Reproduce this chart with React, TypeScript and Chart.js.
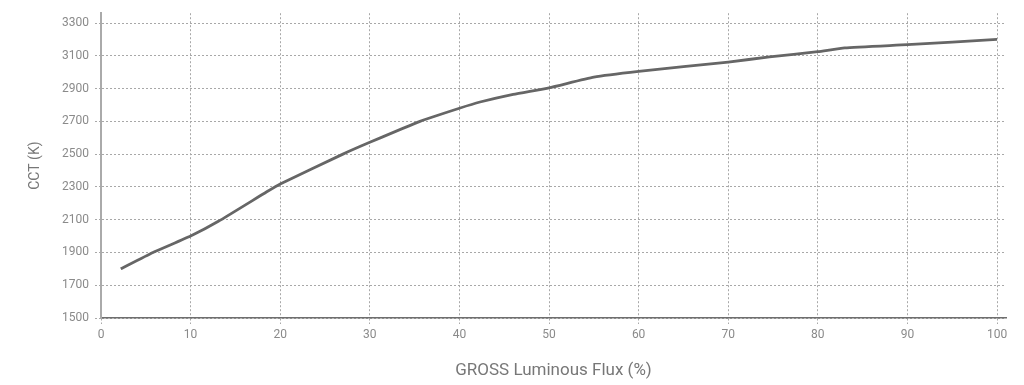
import React, { useEffect, useRef } from "react";
import { Chart, registerables } from "chart.js";

Chart.register(...registerables);

const fluxPercent = [2.2, 5.8, 10, 13.1, 18.5, 20, 27, 30, 35.6, 40, 42.3, 46, 50, 55, 60, 70, 74.6, 80, 83, 90, 100];
const cctKelvin = [1800, 1900, 2000, 2090, 2270, 2318, 2500, 2572, 2700, 2780, 2818, 2865, 2905, 2970, 3005, 3062, 3093, 3125, 3148, 3168, 3200];
const xTickValues = [0, 10, 20, 30, 40, 50, 60, 70, 80, 90, 100];
const yTickValues = [1500, 1700, 1900, 2100, 2300, 2500, 2700, 2900, 3100, 3300];

const xTitle = "GROSS Luminous Flux (%)";
const yTitle = "CCT (K)";

export default function App() {
  const canvasRef = useRef<HTMLCanvasElement | null>(null);

  useEffect(() => {
    if (!canvasRef.current) return;
    const points = fluxPercent.map((x, i) => ({ x, y: cctKelvin[i] }));
    const gridStyle = {
      color: "#a8a8a8",
      lineWidth: 1,
      tickLength: 6,
      tickColor: "#a8a8a8",
      drawTicks: true,
      tickBorderDash: [2, 2],
    };
    const chart = new Chart(canvasRef.current, {
      type: "line",
      data: {
        datasets: [
          {
            data: points,
            borderColor: "#666666",
            borderWidth: 2.8,
            pointRadius: 0,
            tension: 0.15,
            fill: false,
          },
        ],
      },
      options: {
        animation: false,
        responsive: true,
        maintainAspectRatio: false,
        layout: { padding: { left: 24, top: 9, right: 18, bottom: 0 } },
        plugins: { legend: { display: false }, tooltip: { enabled: false } },
        scales: {
          x: {
            type: "linear",
            min: 0,
            max: 101,
            afterBuildTicks: (scale: any) => {
              scale.ticks = xTickValues.map((v) => ({ value: v }));
            },
            afterFit: (scale: any) => {
              scale.height = 67;
            },
            grid: gridStyle,
            border: { display: true, color: "#6e6e6e", width: 1.5, dash: [2, 2] },
            ticks: {
              color: "#8a8a8a",
              font: { family: "Roboto", size: 12 },
              padding: 4,
              maxRotation: 0,
              autoSkip: false,
              callback: (v: any) => String(v),
            },
            title: {
              display: true,
              text: xTitle,
              color: "#777777",
              font: { family: "Roboto", size: 17 },
              padding: { top: 4, bottom: 4 },
            },
          },
          y: {
            type: "linear",
            min: 1500,
            max: 3360,
            afterBuildTicks: (scale: any) => {
              scale.ticks = yTickValues.map((v) => ({ value: v }));
            },
            afterFit: (scale: any) => {
              scale.width = 77;
            },
            grid: gridStyle,
            border: { display: true, color: "#aaaaaa", width: 2, dash: [2, 2] },
            ticks: {
              color: "#8a8a8a",
              font: { family: "Roboto", size: 12 },
              padding: 6,
              autoSkip: false,
              callback: (v: any) => String(v),
            },
            title: {
              display: true,
              text: yTitle,
              color: "#777777",
              font: { family: "Roboto", size: 14 },
              padding: { top: 3, bottom: 4 },
            },
          },
        },
      },
    } as any);
    return () => chart.destroy();
  }, []);

  return (
    <div style={{ position: "absolute", left: 0, top: 0, width: 1024, height: 385, background: "#ffffff" }}>
      <canvas ref={canvasRef} />
    </div>
  );
}
